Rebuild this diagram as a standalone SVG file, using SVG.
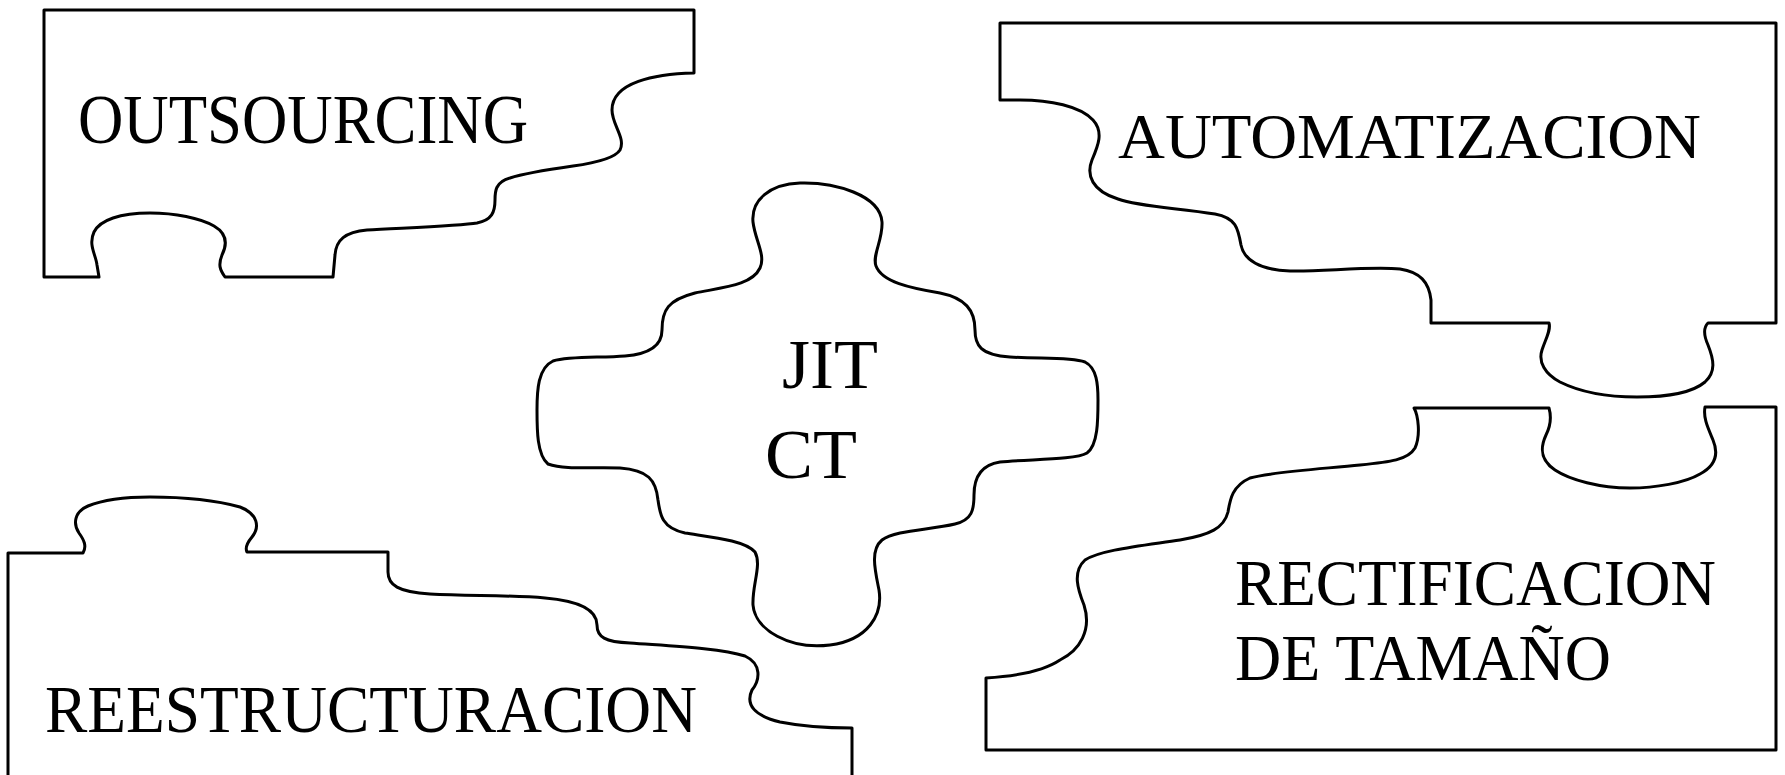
<svg xmlns="http://www.w3.org/2000/svg" width="1785" height="775" viewBox="0 0 1785 775">
<style>
.piece{fill:#ffffff;stroke:#000000;stroke-width:3;stroke-linejoin:round;stroke-linecap:round}
.lbl{font-family:"Liberation Serif","Times New Roman",serif;fill:#000000}
</style>
<rect x="0" y="0" width="1785" height="775" fill="#ffffff"/>
<g id="connectors"></g>
<g id="outsourcing">
<path class="piece" d="M 44 10 H 694 V 73 C 655 74, 612 82, 612 110 C 612 125, 626 138, 620 150 C 615 158, 595 163, 573 166 C 552 169, 525 173, 510 178 C 495 182, 495 192, 495 200 C 495 212, 492 220, 477 223 C 460 226, 400 228, 367 230 C 345 232, 336 240, 335 255 L 333 277 H 225 C 220 270, 218 265, 222 255 C 228 243, 226 233, 214 226 C 200 218, 175 213, 150 213 C 120 213, 100 220, 94 232 C 88 245, 96 255, 97 265 L 99 277 H 44 Z"/>
<text class="lbl" x="78" y="143" font-size="69" textLength="450" lengthAdjust="spacingAndGlyphs">OUTSOURCING</text>
</g>
<g id="automatizacion">
<path class="piece" d="M 1000 23 H 1776 V 323 H 1708 C 1703 328, 1704 336, 1708 345 C 1714 360, 1716 372, 1705 382 C 1692 393, 1665 397, 1637 397 C 1605 397, 1578 391, 1560 382 C 1545 374, 1538 362, 1542 350 C 1546 338, 1551 330, 1549 323 H 1431 V 300 C 1429 282, 1420 272, 1400 269 C 1370 266, 1320 272, 1290 271 C 1260 270, 1244 260, 1241 245 C 1238 228, 1236 218, 1215 214 C 1180 208, 1140 207, 1118 199 C 1092 191, 1086 175, 1092 160 C 1098 146, 1104 132, 1093 120 C 1080 106, 1050 100, 1020 100 H 1000 Z"/>
<text class="lbl" x="1118" y="158" font-size="64" textLength="583" lengthAdjust="spacingAndGlyphs">AUTOMATIZACION</text>
</g>
<g id="jit-ct">
<path class="piece" d="M 760 268 C 766 255, 755 240, 753 222 C 751 200, 770 184, 800 183 C 835 182, 880 195, 882 222 C 883 240, 872 255, 876 266 C 882 282, 910 288, 940 293 C 965 298, 975 310, 975 330 C 975 345, 980 355, 1010 357 C 1040 359, 1070 357, 1085 362 C 1097 368, 1098 385, 1098 400 C 1098 420, 1098 445, 1087 453 C 1075 460, 1030 459, 1000 462 C 980 465, 974 478, 974 495 C 974 510, 972 520, 955 524 C 930 530, 895 530, 882 540 C 870 550, 875 570, 879 590 C 883 615, 868 640, 830 645 C 790 650, 755 630, 753 605 C 752 585, 762 565, 755 552 C 745 540, 710 537, 685 533 C 662 528, 660 515, 658 500 C 656 480, 648 470, 620 468 C 590 467, 565 470, 548 464 C 537 455, 537 430, 537 410 C 537 390, 538 368, 553 361 C 570 356, 600 358, 625 356 C 650 354, 662 345, 662 330 C 662 310, 668 300, 695 293 C 725 287, 752 285, 760 268 Z"/>
<text class="lbl" x="782" y="388" font-size="70" textLength="96" lengthAdjust="spacingAndGlyphs">JIT</text>
<text class="lbl" x="765" y="478" font-size="70" textLength="92" lengthAdjust="spacingAndGlyphs">CT</text>
</g>
<g id="reestructuracion">
<path class="piece" d="M 8 790 V 553 H 83 C 87 546, 84 540, 79 533 C 73 524, 74 512, 88 506 C 105 499, 125 497, 150 497 C 180 497, 215 500, 240 507 C 258 514, 260 527, 252 537 C 247 543, 245 548, 247 552 H 388 V 572 C 388 585, 398 592, 430 594 C 470 596, 510 595, 545 598 C 580 601, 597 610, 597 625 C 597 637, 605 642, 630 643 C 670 646, 720 648, 745 656 C 762 664, 760 680, 752 690 C 745 705, 755 716, 780 722 C 800 726, 825 728, 852 728 V 790 Z"/>
<text class="lbl" x="45" y="732" font-size="67" textLength="652" lengthAdjust="spacingAndGlyphs">REESTRUCTURACION</text>
</g>
<g id="rectificacion">
<path class="piece" d="M 986 750 H 1776 V 407 H 1705 C 1703 418, 1708 428, 1713 440 C 1718 452, 1717 465, 1700 474 C 1685 483, 1655 488, 1630 488 C 1600 488, 1570 480, 1555 470 C 1540 460, 1540 448, 1546 435 C 1551 425, 1551 415, 1549 408 H 1414 C 1418 415, 1421 435, 1415 448 C 1408 460, 1390 462, 1360 465 C 1320 469, 1270 472, 1250 478 C 1232 486, 1230 500, 1228 512 C 1224 528, 1210 535, 1180 540 C 1140 546, 1100 550, 1085 560 C 1072 572, 1078 590, 1084 605 C 1092 630, 1080 650, 1060 660 C 1045 670, 1020 676, 986 678 Z"/>
<text class="lbl" x="1235" y="605" font-size="65" textLength="481" lengthAdjust="spacingAndGlyphs">RECTIFICACION</text>
<text class="lbl" x="1235" y="680" font-size="65" textLength="376" lengthAdjust="spacingAndGlyphs">DE TAMAÑO</text>
</g>
</svg>
